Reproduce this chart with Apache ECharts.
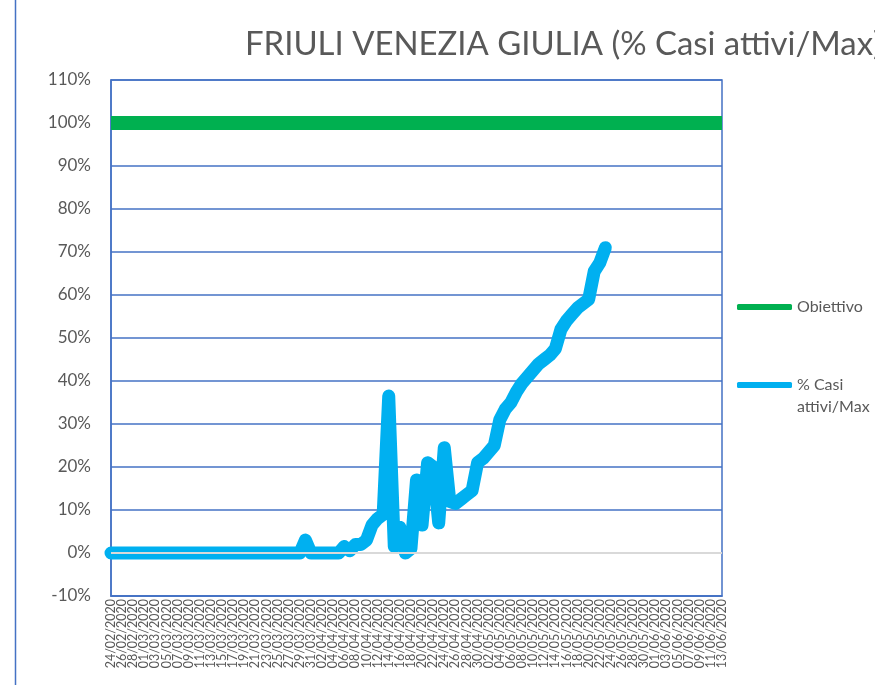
<!DOCTYPE html>
<html>
<head>
<meta charset="utf-8">
<title>FRIULI VENEZIA GIULIA</title>
<script src="https://cdn.jsdelivr.net/npm/echarts@6/dist/echarts.min.js"></script>
<style>
    html, body { margin: 0; padding: 0; background: #fff; }
    #chart { width: 875px; height: 685px; }
</style>
</head>
<body>
<div id="chart"></div>
<script>
// date categories, 24/02/2020 .. 13/06/2020
var dates = [
    '24/02/2020', '25/02/2020', '26/02/2020', '27/02/2020', '28/02/2020', '29/02/2020',
    '01/03/2020', '02/03/2020', '03/03/2020', '04/03/2020', '05/03/2020', '06/03/2020', '07/03/2020', '08/03/2020',
    '09/03/2020', '10/03/2020', '11/03/2020', '12/03/2020', '13/03/2020', '14/03/2020', '15/03/2020', '16/03/2020',
    '17/03/2020', '18/03/2020', '19/03/2020', '20/03/2020', '21/03/2020', '22/03/2020', '23/03/2020', '24/03/2020',
    '25/03/2020', '26/03/2020', '27/03/2020', '28/03/2020', '29/03/2020', '30/03/2020', '31/03/2020',
    '01/04/2020', '02/04/2020', '03/04/2020', '04/04/2020', '05/04/2020', '06/04/2020', '07/04/2020', '08/04/2020',
    '09/04/2020', '10/04/2020', '11/04/2020', '12/04/2020', '13/04/2020', '14/04/2020', '15/04/2020', '16/04/2020',
    '17/04/2020', '18/04/2020', '19/04/2020', '20/04/2020', '21/04/2020', '22/04/2020', '23/04/2020', '24/04/2020',
    '25/04/2020', '26/04/2020', '27/04/2020', '28/04/2020', '29/04/2020', '30/04/2020',
    '01/05/2020', '02/05/2020', '03/05/2020', '04/05/2020', '05/05/2020', '06/05/2020', '07/05/2020', '08/05/2020',
    '09/05/2020', '10/05/2020', '11/05/2020', '12/05/2020', '13/05/2020', '14/05/2020', '15/05/2020', '16/05/2020',
    '17/05/2020', '18/05/2020', '19/05/2020', '20/05/2020', '21/05/2020', '22/05/2020', '23/05/2020', '24/05/2020',
    '25/05/2020', '26/05/2020', '27/05/2020', '28/05/2020', '29/05/2020', '30/05/2020', '31/05/2020',
    '01/06/2020', '02/06/2020', '03/06/2020', '04/06/2020', '05/06/2020', '06/06/2020', '07/06/2020', '08/06/2020',
    '09/06/2020', '10/06/2020', '11/06/2020', '12/06/2020', '13/06/2020'
];

// % casi attivi / max (one value per day, until 23/05)
var casiAttivi = [
    0, 0, 0, 0, 0, 0, 0, 0, 0, 0,
    0, 0, 0, 0, 0, 0, 0, 0, 0, 0,
    0, 0, 0, 0, 0, 0, 0, 0, 0, 0,
    0, 0, 0, 0, 0, 3, 0, 0, 0, 0,
    0, 0, 1.5, 0.5, 2, 2, 3, 6.5, 8, 9,
    36.5, 1.5, 6, 0, 1, 17, 6.5, 21, 20, 7,
    24.5, 12, 11.5, 12.5, 13.5, 14.5, 21, 22, 23.5, 25,
    31, 33.5, 35, 37.5, 39.5, 41, 42.5, 44, 45, 46,
    47.5, 52, 54, 55.5, 57, 58, 59, 65.5, 67.5, 71
];

var obiettivo = 100;

var yTicks = { min: -10, max: 110, step: 10 };

var blue = '#4472C4';
var gray = '#595959';
var font = 'Lato';

var chart = echarts.init(document.getElementById('chart'));

var option = {
    backgroundColor: '#fff',
    animation: false,
    title: {
        text: 'FRIULI VENEZIA GIULIA (% Casi attivi/Max)',
        left: 240,
        top: 23,
        textStyle: {
            fontFamily: font,
            fontSize: 32.9,
            fontWeight: 'normal',
            color: gray
        }
    },
    legend: [
        {
            data: ['Obiettivo'],
            left: 737,
            top: 296,
            padding: 0,
            icon: 'roundRect',
            itemWidth: 55,
            itemHeight: 6,
            textStyle: { fontFamily: font, fontSize: 16, color: gray, lineHeight: 22 }
        },
        {
            data: ['% Casi attivi/Max'],
            left: 737,
            top: 352,
            padding: 0,
            icon: 'roundRect',
            itemWidth: 55,
            itemHeight: 6,
            formatter: function () {
                return ' \n% Casi\nattivi/Max';
            },
            textStyle: { fontFamily: font, fontSize: 16, color: gray, lineHeight: 22 }
        }
    ],
    graphic: [
        {
            type: 'line',
            shape: { x1: 15.5, y1: 0, x2: 15.5, y2: 685 },
            style: { stroke: blue, lineWidth: 1.5 }
        }
    ],
    grid: {
        left: 111,
        right: 153,
        top: 80,
        bottom: 89,
        show: true,
        borderColor: blue,
        borderWidth: 1.5
    },
    xAxis: {
        type: 'category',
        data: dates,
        boundaryGap: false,
        axisLine: { onZero: false, lineStyle: { color: blue, width: 1.5 } },
        axisTick: { show: false },
        splitLine: { show: false },
        axisLabel: {
            interval: 0,
            hideOverlap: false,
            showMinLabel: true,
            showMaxLabel: true,
            rotate: 90,
            margin: 3,
            fontFamily: font,
            fontSize: 12.5,
            color: gray,
            // one label every two days
            formatter: function (v, i) {
                return i % 2 === 0 ? v : '';
            }
        }
    },
    yAxis: {
        type: 'value',
        min: yTicks.min,
        max: yTicks.max,
        interval: yTicks.step,
        axisLine: { show: true, lineStyle: { color: blue, width: 1.5 } },
        axisTick: { show: false },
        splitLine: { lineStyle: { color: blue, width: 1.5 } },
        axisLabel: {
            margin: 20,
            fontFamily: font,
            fontSize: 17,
            color: gray,
            formatter: function (v) {
                return v + '%';
            }
        }
    },
    series: [
        {
            name: 'Obiettivo',
            type: 'line',
            symbol: 'none',
            color: '#00B050',
            lineStyle: { width: 14, color: '#00B050', cap: 'butt' },
            data: [[dates[0], obiettivo], [dates[dates.length - 1], obiettivo]],
            markLine: {
                silent: true,
                symbol: 'none',
                label: { show: false },
                lineStyle: { color: '#D9D9D9', width: 2, type: 'solid' },
                data: [{ yAxis: 0 }]
            },
            z: 3
        },
        {
            name: '% Casi attivi/Max',
            type: 'line',
            symbol: 'none',
            color: '#00B0F0',
            lineStyle: { width: 13, color: '#00B0F0', cap: 'round', join: 'round' },
            data: casiAttivi,
            z: 4
        }
    ]
};

chart.setOption(option);
</script>
</body>
</html>
